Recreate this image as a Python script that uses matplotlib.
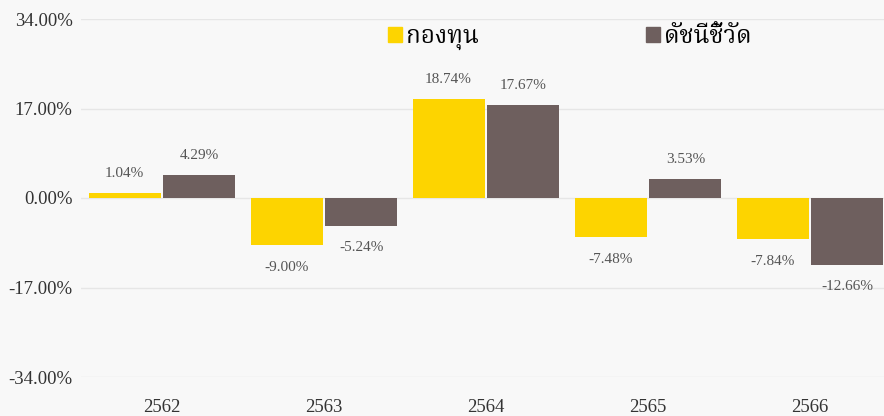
import matplotlib
matplotlib.use("Agg")
import matplotlib.pyplot as plt
from matplotlib import font_manager
from matplotlib.patches import Patch
from matplotlib.ticker import FuncFormatter

# ── data ─────────────────────────────────────────────────────────────────────
years = ["2562", "2563", "2564", "2565", "2566"]
fund = [1.04, -9.00, 18.74, -7.48, -7.84]
benchmark = [4.29, -5.24, 17.67, 3.53, -12.66]
y_ticks = [-34, -17, 0, 17, 34]
legend_labels = ["กองทุน", "ดัชนีชี้วัด"]

FUND_COLOR = "#FDD400"
BENCH_COLOR = "#6E5F5E"
BG = "#F8F8F8"

installed = {f.name for f in font_manager.fontManager.ttflist}
thai_candidates = ["Noto Serif Thai", "Noto Sans Thai", "Loma", "Garuda",
                   "Norasi", "Tlwg Typo", "FreeSerif", "Noto Sans Thai UI"]
thai_fonts = [f for f in thai_candidates if f in installed]
plt.rcParams["font.family"] = ["Liberation Serif"] + thai_fonts + ["DejaVu Sans"]

fig = plt.figure(figsize=(8.84, 4.16), dpi=100, facecolor=BG)
# plot area runs a little past the right edge, as in the source
ax = fig.add_axes([81 / 884, 39 / 416, 810 / 884, 358 / 416], facecolor=BG)

x = list(range(len(years)))
w = 0.445
off = 0.231
b1 = ax.bar([i - off for i in x], fund, width=w, color=FUND_COLOR, zorder=3)
b2 = ax.bar([i + off for i in x], benchmark, width=w, color=BENCH_COLOR, zorder=3)

for bars, vals in ((b1, fund), (b2, benchmark)):
    for rect, v in zip(bars, vals):
        cx = rect.get_x() + rect.get_width() / 2
        dy = 14 if v >= 0 else -16
        ax.annotate(f"{v:.2f}%", (cx, v), xytext=(0, dy), textcoords="offset points",
                    ha="center", va="center", fontsize=11, color="#555555")

ax.set_xlim(-0.5, len(years) - 0.5)
ax.set_ylim(-34, 34)
ax.set_yticks(y_ticks)
ax.yaxis.set_major_formatter(FuncFormatter(lambda v, _: f"{v:.2f}%"))
ax.set_xticks(x)
ax.set_xticklabels(years)
ax.tick_params(axis="both", length=0, labelsize=13.5, colors="#333333")
ax.tick_params(axis="x", pad=15.5)
ax.tick_params(axis="y", pad=6)
ax.grid(axis="y", color="#E6E6E6", linewidth=1, zorder=0)
for s in ax.spines.values():
    s.set_visible(False)

handles = [Patch(color=FUND_COLOR), Patch(color=BENCH_COLOR)]
fig.legend(handles, legend_labels, loc="center left", bbox_to_anchor=(366 / 884, 1 - 38 / 416),
           ncol=2, frameon=False, fontsize=17.5, handlelength=0.58, handleheight=0.58,
           handletextpad=0.15, columnspacing=6.9)

fig.savefig("out.png", dpi=100, facecolor=BG)
